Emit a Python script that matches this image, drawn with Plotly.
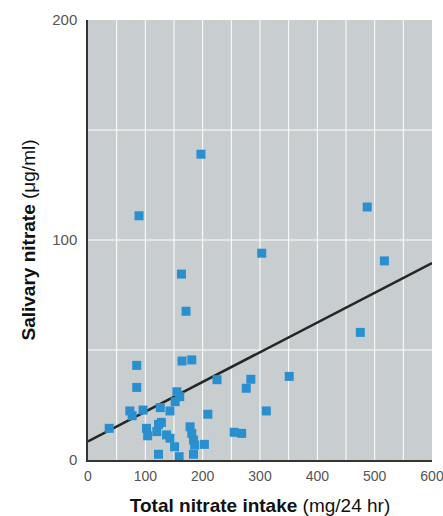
import plotly.graph_objects as go

# Data
nitrate_intake = [197, 89, 303, 163, 171, 487, 517, 475, 351, 164, 181, 85, 85, 225, 284,
                  276, 155, 160, 152, 73, 77, 96, 126, 143, 209, 311, 37, 102, 104, 123,
                  128, 120, 137, 143, 151, 178, 181, 184, 186, 203, 123, 159, 184, 255, 268]
salivary_nitrate = [139, 111, 94, 84.5, 67.6, 115, 90.5, 58, 38, 45, 45.5, 43, 33, 36.5, 36.7,
                    32.6, 31, 28.8, 26.5, 22.3, 20.1, 22.7, 23.8, 22.3, 20.8, 22.3, 14.4, 14.4, 11, 16.2,
                    17.1, 12.9, 11.4, 9.9, 6, 15.1, 12.1, 9.1, 6.8, 7.1, 2.6, 1.5, 2.6, 12.6, 12.1]

fit_intercept = 8.5
fit_slope = 0.135
fit_x = [0, 600]
fit_y = [fit_intercept + fit_slope * v for v in fit_x]

x_ticks = [0, 100, 200, 300, 400, 500, 600]
y_ticks = [0, 100, 200]
grid_step = 50

FONT = "Liberation Sans Narrow, Arial Narrow, Liberation Sans, Arial, sans-serif"

fig = go.Figure()
fig.add_trace(go.Scatter(
    x=fit_x, y=fit_y, mode="lines",
    line=dict(color="#262626", width=2.5),
    hoverinfo="skip", showlegend=False))
fig.add_trace(go.Scatter(
    x=nitrate_intake, y=salivary_nitrate, mode="markers",
    marker=dict(symbol="square", size=9, color="#2a8fcf", line=dict(width=0)),
    showlegend=False))

fig.update_layout(
    width=443, height=516,
    margin=dict(l=88, r=11, t=20, b=56, autoexpand=False),
    paper_bgcolor="white",
    plot_bgcolor="#c8cdd0",
    font=dict(family=FONT, color="#555555", size=15),
    xaxis=dict(
        range=[0, 600], tickvals=x_ticks, ticktext=[str(v) for v in x_ticks],
        showgrid=False,
        showline=True, linecolor="#333333", linewidth=1.5,
        ticks="", zeroline=False, fixedrange=True,
        tickfont=dict(size=14, color="#555555"),
        ticklabelstandoff=2,
        ticklabeloverflow="allow",
        title=dict(text="<b>Total nitrate intake</b> (mg/24 hr)",
                   font=dict(size=19, color="#111111", family=FONT), standoff=24),
    ),
    yaxis=dict(
        range=[0, 200], tickvals=y_ticks, ticktext=[str(v) for v in y_ticks],
        showgrid=False,
        showline=True, linecolor="#333333", linewidth=1.5,
        ticks="", zeroline=False, fixedrange=True,
        tickfont=dict(size=15, color="#555555"),
        ticklabelstandoff=6,
        ticklabeloverflow="allow",
        title=dict(text="<b>Salivary nitrate</b> (μg/ml)",
                   font=dict(size=19, color="#111111", family=FONT), standoff=12),
    ),
)

# white grid lines every 50 units (both directions)
for gx in range(grid_step, x_ticks[-1], grid_step):
    fig.add_shape(type="line", xref="x", yref="paper", x0=gx, x1=gx, y0=0, y1=1,
                  line=dict(color="white", width=1), layer="below")
for gy in range(grid_step, y_ticks[-1], grid_step):
    fig.add_shape(type="line", xref="paper", yref="y", x0=0, x1=1, y0=gy, y1=gy,
                  line=dict(color="white", width=1), layer="below")

fig.write_html("out.html", config={"displayModeBar": False},
               post_script="document.body.style.margin='0';document.body.style.overflow='hidden';")
